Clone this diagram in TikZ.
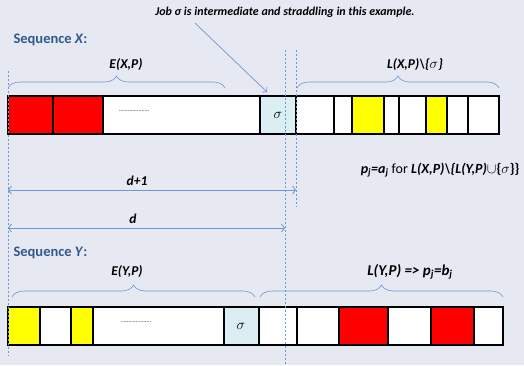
\documentclass[tikz,border=0pt]{standalone}
\usepackage{fontspec}
\setmainfont{Carlito}
\usetikzlibrary{arrows.meta,positioning,decorations.pathreplacing}
\definecolor{paper}{HTML}{E6E8F2}
\definecolor{seqblue}{HTML}{2F5A8E}
\definecolor{guide}{HTML}{6C98D0}
\definecolor{straddle}{HTML}{DAEEF3}
\definecolor{early}{HTML}{FF0000}
\definecolor{late}{HTML}{FFFF00}

\tikzset{
  cell/.style={draw=black,line width=1.3pt},
  guideline/.style={guide,dash pattern=on 2pt off 2pt,line width=0.6pt},
  dimline/.style={guide,line width=0.8pt,{Straight Barb[length=3pt,width=8pt]}-{Straight Barb[length=3pt,width=8pt]}},
  bracket/.style={guide,line width=0.6pt,decorate,decoration={brace,amplitude=12pt}},
  lbl/.style={font=\fontsize{13.5}{15}\selectfont\bfseries\itshape},
  seqlbl/.style={font=\fontsize{14.5}{16}\selectfont\bfseries,text=seqblue,anchor=west},
  filler/.style={font=\fontsize{6}{7}\selectfont},
  jobsig/.style={font=\fontsize{15}{17}\selectfont}
}

\begin{document}
\begin{tikzpicture}[x=1pt,y=-1pt]
  \fill[paper] (0,0) rectangle (524,365);
  \useasboundingbox (0,0) rectangle (524,365);

  % note on the straddling job
  \node[font=\fontsize{12}{14}\selectfont\bfseries\itshape] (note) at (285,12) {Job σ is intermediate and straddling in this example.};
  \coordinate (tail) at (195,23);
  \coordinate (head) at (267,92);
  \draw[guide,line width=0.7pt,-{Straight Barb[length=3pt,width=7pt]}] (tail) -- (head);

  % Sequence X
  \node[seqlbl] (seqX) at (10,40) {Sequence \textit{X}:};
  \foreach \a/\b/\c in {8/53/early,53/103/early,103/260/white,260/296/straddle,296/334/white,334/352/white,
                        352/384/late,384/399/white,399/426/white,426/447/late,447/468/white,468/499/white}
    \filldraw[cell,fill=\c] (\a,96) rectangle (\b,134);
  \node[filler] (dotsX) at (134,111) {....................};
  \node[jobsig] (sigX) at (278,115) {$\sigma$};
  \draw[bracket] (8,88) -- (225,88);
  \draw[bracket] (297,88) -- (499,88);
  \node[lbl] (eX) at (126,65) {E(X,P)};
  \node[lbl] (lX) at (415,65) {L(X,P)\textbackslash\{\textmd{$\sigma$}\}};
  \node[anchor=east,font=\fontsize{14}{16}\selectfont] (pX) at (523,170)
    {\textbf{\textit{p\textsubscript{j}=a\textsubscript{j}}} for \textbf{\textit{L(X,P)\textbackslash\{L(Y,P)}}$\cup$\textbf{\{}$\sigma$\textbf{\}\}}};

  % Sequence Y
  \node[seqlbl] (seqY) at (10,253) {Sequence \textit{Y}:};
  \foreach \a/\b/\c in {8/40/late,40/71/white,71/93/late,93/224/white,224/259/straddle,259/297/white,
                        297/339/white,339/388/early,388/431/white,431/474/early,474/503/white}
    \filldraw[cell,fill=\c] (\a,307) rectangle (\b,345);
  \node[filler] (dotsY) at (136,322) {....................};
  \node[jobsig] (sigY) at (241,326) {$\sigma$};
  \draw[bracket] (12,297) -- (255,297);
  \draw[bracket] (260,297) -- (503,297);
  \node[lbl] (eY) at (127,272) {E(Y,P)};
  \node[lbl,font=\fontsize{15}{17}\selectfont\bfseries\itshape] (lY) at (410,272) {L(Y,P) => p\textsubscript{j}=b\textsubscript{j}};

  % guides and distances
  \draw[guideline] (8,71) -- (8,356);
  \draw[guideline] (285,50) -- (285,365);
  \draw[guideline] (296,50) -- (296,207);
  \coordinate (d1a) at (8,190);
  \coordinate (d1b) at (296,190);
  \coordinate (d0a) at (8,228);
  \coordinate (d0b) at (285,228);
  \draw[dimline] (d1a) -- (d1b);
  \draw[dimline] (d0a) -- (d0b);
  \node[lbl] (dplus) at (137,181) {d+1};
  \node[lbl] (dd) at (133,219) {d};
\end{tikzpicture}
\end{document}
